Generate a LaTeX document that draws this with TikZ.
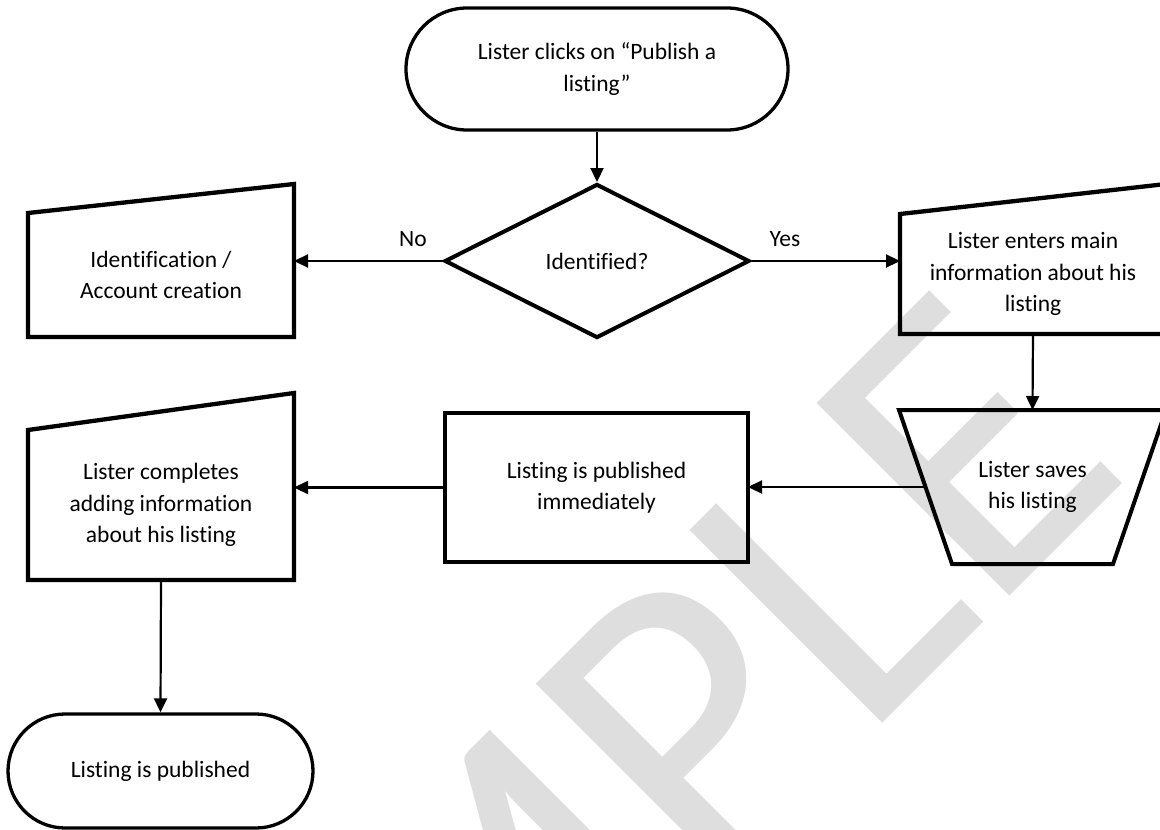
\documentclass[tikz,border=0pt]{standalone}
\usepackage{fontspec}
\setmainfont{Carlito}[Ligatures=NoCommon]
\usetikzlibrary{arrows.meta,shapes.geometric,calc}
\definecolor{wm}{RGB}{222,222,222}
\begin{document}
\begin{tikzpicture}[x=1pt,y=-1pt,
  txt/.style={font=\fontsize{23.5}{31.5}\selectfont, align=center, inner sep=0pt, text=black},
  box/.style={line width=4.3pt, line join=miter},
  term/.style={draw, line width=3.3pt, txt},
  area/.style={inner sep=0pt, outer sep=0pt, txt},
  conn/.style={line width=2.2pt, -{Triangle[length=14pt,width=13pt]}}
]
\clip (0,0) rectangle (1160,830);
\fill[white] (0,0) rectangle (1160,830);
% watermark
\node[font=\fontsize{425}{425}\selectfont, text=wm, rotate=45, anchor=base, inner sep=0pt] (wmark) at (638,968) {SAMPLE};

% shapes
\node[term, rounded corners=61pt, minimum width=382pt, minimum height=122pt] (start) at (597,69) {Lister clicks on “Publish a\\listing”};
\node[draw, diamond, line width=4pt, minimum width=305pt, minimum height=154pt, txt] (dec) at (597,261) {Identified?};

\node[area, minimum width=266pt, minimum height=124pt] (id) at (161,275) {Identification /\\Account creation};
\draw[box] (id.south west) -- (id.north west) -- ([yshift=29pt]id.north east) -- (id.south east) -- cycle;

\node[area, minimum width=266pt, minimum height=120pt] (enter) at (1033,274) {Lister enters main\\information about his\\listing};
\draw[box] (enter.south west) -- (enter.north west) -- ([yshift=30pt]enter.north east) -- (enter.south east) -- cycle;

\node[area, minimum width=267pt, minimum height=154pt] (save) at (1032.5,487) {Lister saves\\his listing};
\draw[box, line width=4pt] (save.north west) -- (save.north east) -- ([xshift=-53pt]save.south east) -- ([xshift=53pt]save.south west) -- cycle;
\coordinate (saveL) at ($(save.north west)!0.5!([xshift=53pt]save.south west)$);

\node[draw, box, area, minimum width=303pt, minimum height=149pt] (pub) at (596.5,487.5) {Listing is published\\immediately};

\node[area, minimum width=266pt, minimum height=150pt] (complete) at (161,505) {Lister completes\\adding information\\about his listing};
\draw[box] (complete.south west) -- (complete.north west) -- ([yshift=37pt]complete.north east) -- (complete.south east) -- cycle;

\node[term, rounded corners=57pt, minimum width=305pt, minimum height=114pt] (end) at (160.5,771) {Listing is published};

% labels
\node[txt, anchor=base] (nolab) at (413,246.5) {No};
\node[txt, anchor=base] (yeslab) at (785,246) {Yes};

% connectors
\draw[conn] (start.south) -- (dec.north);
\draw[conn] (dec.west) -- (dec.west -| id.east);
\draw[conn] (dec.east) -- (dec.east -| enter.west);
\draw[conn] (enter.south) -- (save.north);
\draw[conn] (saveL) -- (saveL -| pub.east);
\draw[conn] (pub.west) -- (pub.west -| complete.east);
\draw[conn] (complete.south) -- (end.north);
\end{tikzpicture}
\end{document}
